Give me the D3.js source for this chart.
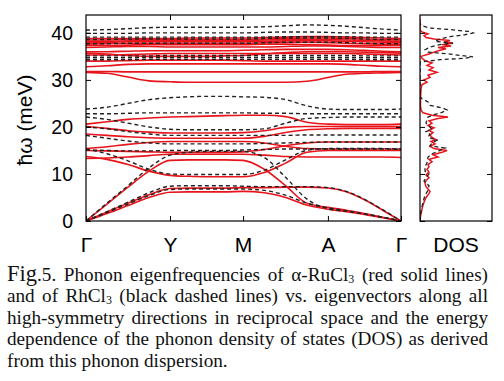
<!DOCTYPE html>
<html>
<head>
<meta charset="utf-8">
<script src="https://cdn.jsdelivr.net/npm/d3@7"></script>
<style>
  body { margin: 0; background: #fff; }
  #chart { position: relative; width: 504px; height: 381px; overflow: hidden; background: #fff; }
  #chart svg { position: absolute; left: 0; top: 0; }
  .cap { position: absolute; left: 7px; width: 481px; white-space: nowrap;
         font-family: "Liberation Serif", "Times New Roman", serif; font-size: 19.2px;
         line-height: 21.5px; color: #111; }
  .cap.j { text-align: justify; text-align-last: justify; white-space: normal; }
  .cap .big { font-size: 22.5px; line-height: 0; }
  .cap sub { font-size: 12px; line-height: 0; vertical-align: -2px; }
</style>
</head>
<body>
<div id="chart">
  <div class="cap j" style="top:263.5px"><span class="big">Fig</span>.5. Phonon eigenfrequencies of α-RuCl<sub>3</sub> (red solid lines)</div>
  <div class="cap j" style="top:285px">and of RhCl<sub>3</sub> (black dashed lines) vs. eigenvectors along all</div>
  <div class="cap j" style="top:306.5px">high-symmetry directions in reciprocal space and the energy</div>
  <div class="cap j" style="top:328px">dependence of the phonon density of states (DOS) as derived</div>
  <div class="cap" style="top:349.5px">from this phonon dispersion.</div>
</div>
<script>
// high-symmetry path
const kLabels = ["Γ", "Y", "M", "A", "Γ"]
const kNodes = [0, 1, 1.87, 2.88, 3.75]
const yTicks = [0, 10, 20, 30, 40]

// alpha-RuCl3 bands (meV), sampled at Γ, 1/4, 1/2, 3/4, Y, ... , Γ
const ruBands = [
  [0, 1.6, 3.3, 5.0, 6.1, 6.2, 6.2, 6.2, 6.3, 6.0, 5.0, 3.4, 2.5, 2.0, 1.4, 0.7, 0],
  [0, 1.9, 3.8, 5.6, 6.9, 7.0, 7.0, 7.0, 7.1, 7.1, 7.2, 7.2, 7.0, 6.2, 4.5, 2.3, 0],
  [0, 3.6, 7.2, 10.6, 12.9, 13.0, 13.0, 13.0, 12.9, 11.0, 7.5, 3.8, 2.9, 2.3, 1.6, 0.8, 0],
  [13.7, 13.1, 12.0, 10.6, 9.7, 9.5, 9.4, 9.4, 9.4, 10.3, 12.3, 14.6, 15.0, 15.0, 15.0, 15.0, 15.0],
  [20.6, 21.1, 21.6, 21.9, 22.1, 22.2, 22.3, 22.4, 22.5, 22.5, 22.2, 21.0, 20.6, 20.5, 20.5, 20.5, 20.6],
  [20.1, 19.7, 19.2, 18.9, 18.7, 18.7, 18.7, 18.7, 18.8, 19.2, 19.9, 20.1, 20.1, 20.1, 20.1, 20.1, 20.1],
  [13.3, 13.4, 13.6, 13.9, 14.2, 14.2, 14.2, 14.2, 14.2, 14.0, 13.7, 13.6, 13.6, 13.6, 13.6, 13.6, 13.5],
  [15.0, 14.9, 14.8, 14.7, 14.6, 14.6, 14.6, 14.6, 14.7, 15.2, 16.0, 16.6, 16.8, 16.8, 16.8, 16.8, 16.8],
  [15.4, 15.8, 16.3, 16.7, 16.9, 16.9, 16.9, 16.9, 16.9, 16.6, 15.9, 15.4, 15.3, 15.3, 15.3, 15.3, 15.3],
  [18.5, 18.2, 17.9, 17.7, 17.6, 17.6, 17.6, 17.6, 17.6, 18.0, 18.8, 19.4, 19.6, 19.7, 19.7, 19.7, 19.7],
  [31.6, 31.4, 30.6, 29.8, 29.6, 29.5, 29.5, 29.5, 29.5, 29.5, 29.5, 29.7, 30.5, 31.2, 31.4, 31.5, 31.6],
  [31.8, 31.8, 31.7, 31.7, 31.7, 31.7, 31.7, 31.7, 31.7, 31.7, 31.7, 31.7, 31.7, 31.7, 31.7, 31.8, 31.8],
  [32.8, 33.0, 33.3, 33.4, 33.4, 33.4, 33.4, 33.4, 33.4, 33.4, 33.4, 33.4, 33.4, 33.3, 33.1, 32.9, 32.8],
  [34.0, 34.0, 34.1, 34.2, 34.2, 34.2, 34.2, 34.2, 34.1, 34.0, 34.0, 34.0, 34.0, 34.0, 34.0, 34.0, 34.0],
  [35.3, 35.3, 35.4, 35.5, 35.6, 35.6, 35.6, 35.6, 35.6, 35.6, 35.6, 35.6, 35.6, 35.6, 35.5, 35.4, 35.3],
  [35.7, 35.5, 35.2, 35.0, 35.0, 35.0, 35.0, 35.1, 35.2, 35.5, 35.8, 36.0, 36.0, 36.0, 35.9, 35.8, 35.7],
  [36.0, 36.0, 36.1, 36.2, 36.2, 36.2, 36.2, 36.2, 36.3, 36.4, 36.5, 36.5, 36.5, 36.4, 36.3, 36.1, 36.0],
  [36.9, 37.0, 37.1, 37.1, 37.0, 37.0, 37.0, 37.0, 37.0, 37.0, 37.1, 37.2, 37.2, 37.1, 37.0, 36.9, 36.9],
  [37.3, 37.3, 37.4, 37.5, 37.5, 37.5, 37.5, 37.5, 37.5, 37.6, 37.6, 37.5, 37.4, 37.3, 37.3, 37.3, 37.3],
  [37.6, 37.7, 37.8, 37.8, 37.8, 37.8, 37.8, 37.8, 37.8, 37.9, 38.0, 38.0, 37.9, 37.8, 37.7, 37.6, 37.6],
  [37.9, 38.0, 38.1, 38.1, 38.1, 38.1, 38.1, 38.1, 38.1, 38.2, 38.3, 38.3, 38.3, 38.2, 38.1, 38.0, 37.9],
  [38.2, 38.2, 38.3, 38.4, 38.4, 38.4, 38.4, 38.4, 38.4, 38.5, 38.6, 38.6, 38.6, 38.5, 38.4, 38.3, 38.2],
  [38.5, 38.5, 38.6, 38.6, 38.6, 38.6, 38.6, 38.6, 38.6, 38.7, 38.8, 38.9, 38.9, 38.8, 38.7, 38.6, 38.5],
  [38.8, 38.8, 38.8, 38.8, 38.8, 38.9, 38.9, 38.9, 38.9, 39.0, 39.1, 39.2, 39.2, 39.1, 39.0, 38.9, 38.8]
]

// RhCl3 bands (meV), same sampling
const rhBands = [
  [0, 1.8, 3.6, 5.4, 6.7, 6.8, 6.8, 6.8, 6.8, 6.5, 5.5, 3.8, 2.8, 2.2, 1.5, 0.8, 0],
  [0, 2.0, 4.0, 6.0, 7.4, 7.5, 7.5, 7.5, 7.4, 7.3, 7.3, 7.3, 7.1, 6.3, 4.6, 2.4, 0],
  [0, 3.8, 7.5, 11.3, 14.0, 14.6, 14.8, 14.8, 14.8, 13.5, 9.3, 4.7, 2.6, 2.1, 1.5, 0.8, 0],
  [15.3, 14.3, 12.8, 11.0, 10.0, 9.9, 9.9, 9.9, 9.9, 10.8, 13.0, 15.0, 15.4, 15.4, 15.4, 15.4, 15.3],
  [23.8, 24.2, 25.0, 25.8, 26.2, 26.4, 26.5, 26.5, 26.4, 26.3, 25.8, 24.5, 23.8, 23.7, 23.7, 23.7, 23.8],
  [22.8, 22.8, 22.9, 23.0, 23.0, 23.0, 23.0, 23.0, 23.0, 22.9, 22.9, 22.8, 22.8, 22.8, 22.8, 22.8, 22.8],
  [22.1, 21.6, 20.8, 20.0, 19.5, 19.4, 19.4, 19.4, 19.4, 19.6, 20.8, 21.8, 22.0, 22.1, 22.1, 22.1, 22.1],
  [20.0, 19.6, 19.0, 18.5, 18.2, 18.2, 18.2, 18.2, 18.2, 18.2, 18.2, 18.3, 18.3, 18.3, 18.3, 18.3, 18.3],
  [18.2, 17.6, 17.0, 16.6, 16.4, 16.4, 16.4, 16.4, 16.4, 16.5, 16.6, 16.7, 16.8, 16.8, 16.8, 16.8, 16.8],
  [15.1, 15.0, 14.9, 14.9, 15.0, 15.0, 15.0, 15.0, 15.1, 15.2, 15.3, 15.3, 15.3, 15.3, 15.3, 15.3, 15.2],
  [34.3, 34.3, 34.3, 34.4, 34.4, 34.4, 34.4, 34.4, 34.4, 34.4, 34.4, 34.4, 34.4, 34.4, 34.3, 34.3, 34.3],
  [34.7, 34.7, 34.7, 34.8, 34.8, 34.8, 34.8, 34.8, 34.8, 34.8, 34.8, 34.8, 34.8, 34.8, 34.7, 34.7, 34.7],
  [35.1, 35.1, 35.1, 35.1, 35.2, 35.2, 35.2, 35.2, 35.2, 35.2, 35.2, 35.2, 35.2, 35.2, 35.1, 35.1, 35.1],
  [37.7, 37.7, 37.8, 37.8, 37.8, 37.8, 37.8, 37.8, 37.8, 37.9, 38.0, 38.0, 38.0, 37.9, 37.8, 37.7, 37.7],
  [38.6, 38.6, 38.7, 38.7, 38.7, 38.7, 38.7, 38.7, 38.7, 38.8, 38.9, 38.9, 38.9, 38.8, 38.7, 38.6, 38.6],
  [39.1, 39.1, 39.1, 39.1, 39.1, 39.1, 39.1, 39.1, 39.1, 39.1, 39.2, 39.2, 39.2, 39.2, 39.1, 39.1, 39.1],
  [39.9, 39.9, 39.9, 40.0, 40.0, 40.0, 40.0, 40.0, 40.0, 40.1, 40.2, 40.2, 40.1, 40.0, 40.0, 39.9, 39.9],
  [40.6, 40.7, 40.9, 41.1, 41.2, 41.2, 41.2, 41.2, 41.2, 41.3, 41.5, 41.7, 41.6, 41.4, 41.1, 40.8, 40.6]
]

// phonon DOS (energy in meV, arbitrary units)
const dosEnergyRu = [0, 1, 2, 3, 4, 5, 5.8, 6.3, 6.8, 7.3, 8, 8.6, 9.2, 9.8, 10.4, 11, 11.5, 12, 12.6, 13.1,
  13.6, 14.1, 14.6, 15.0, 15.4, 15.9, 16.4, 16.9, 17.3, 17.8, 18.3, 18.8, 19.3, 19.8, 20.3, 20.8, 21.3,
  21.8, 22.1, 22.5, 23.0, 23.6, 24.5, 26, 28, 29, 29.5, 30, 30.5, 31, 31.6, 32.1, 32.6, 33.1, 33.6, 34.1,
  34.6, 35.0, 35.5, 35.9, 36.3, 36.6, 36.9, 37.2, 37.5, 37.8, 38.1, 38.4, 38.7, 39.0, 39.4, 39.8, 40.2, 40.6, 43]
const dosRu = [0, 0.5, 1.5, 2.5, 4, 6, 9, 10, 8, 6, 5, 6, 9, 6, 9, 7, 9, 8, 12, 9,
  18, 13, 22, 27, 14, 10, 15, 11, 16, 12, 10, 13, 9, 14, 8, 12, 9,
  18, 28, 12, 3, 1, 0.5, 0.5, 1, 2, 7, 4, 10, 8, 17, 9, 13, 7, 12, 5,
  2, 1, 9, 14, 20, 26, 18, 31, 22, 33, 24, 30, 14, 6, 4, 8, 2, 0, 0]
const dosEnergyRh = [0, 2, 4, 5.5, 6.5, 7.5, 8.5, 9.2, 10, 10.6, 11.5, 12.4, 13.6, 14.3, 15.0, 15.5, 16.0,
  16.6, 17.2, 17.8, 18.4, 19.0, 19.5, 20.2, 20.8, 21.5, 22.1, 22.6, 23.1, 23.6, 24.0, 24.6, 25.3, 26.0,
  26.4, 33.8, 34.3, 34.6, 34.9, 35.2, 35.5, 35.9, 36.4, 37.0, 37.5, 37.8, 38.2, 38.7, 39.2, 39.6, 40.0,
  40.3, 40.7, 41.0, 41.5, 42]
const dosRh = [0, 1, 3, 5, 8, 9, 4, 6, 9, 5, 5, 7, 8, 12, 20, 25, 10,
  12, 17, 8, 10, 6, 12, 9, 6, 7, 8, 14, 22, 27, 23, 10, 8, 2,
  0, 0, 20, 45, 53, 40, 30, 8, 5, 10, 20, 33, 15, 20, 30, 45, 53,
  48, 30, 10, 2, 0]

// layout
const W = 504, H = 381
const frame = {left: 86, right: 401, top: 15, bottom: 221}
const dosFrame = {left: 420, right: 492}
const red = "#e8141c"

const svg = d3.select("#chart").insert("svg", ":first-child")
  .attr("width", W)
  .attr("height", H)

const x = d3.scaleLinear().domain([0, kNodes[4]]).range([frame.left, frame.right])
const y = d3.scaleLinear().domain([0, 43.8]).range([frame.bottom, frame.top])
const xd = d3.scaleLinear().domain([0, 72]).range([dosFrame.left, dosFrame.right])

// k of every sample: 4 steps per segment
const kSample = d3.range(17).map(i => {
  const s = Math.min(3, Math.floor(i / 4))
  return kNodes[s] + (kNodes[s + 1] - kNodes[s]) * (i - s * 4) / 4
})

const defs = svg.append("defs")
defs.append("clipPath").attr("id", "clipMain").append("rect")
  .attr("x", frame.left).attr("y", frame.top)
  .attr("width", frame.right - frame.left).attr("height", frame.bottom - frame.top)
defs.append("clipPath").attr("id", "clipDos").append("rect")
  .attr("x", dosFrame.left).attr("y", frame.top)
  .attr("width", dosFrame.right - dosFrame.left).attr("height", frame.bottom - frame.top)

const band = d3.line()
  .x((d, i) => x(kSample[i]))
  .y(d => y(d))
  .curve(d3.curveMonotoneX)

const main = svg.append("g").attr("clip-path", "url(#clipMain)")

main.append("g").selectAll("path")
  .data(ruBands)
  .join("path")
  .attr("d", band)
  .attr("fill", "none")
  .attr("stroke", red)
  .attr("stroke-width", 1.6)

main.append("g").selectAll("path")
  .data(rhBands)
  .join("path")
  .attr("d", band)
  .attr("fill", "none")
  .attr("stroke", "#222")
  .attr("stroke-width", 1.4)
  .attr("stroke-dasharray", "4,3")

// DOS panel
const dosLine = d3.line()
  .x(d => xd(d[1]))
  .y(d => y(d[0]))

const dos = svg.append("g").attr("clip-path", "url(#clipDos)")
dos.append("path")
  .datum(d3.zip(dosEnergyRu, dosRu))
  .attr("d", dosLine)
  .attr("fill", "none")
  .attr("stroke", red)
  .attr("stroke-width", 1.5)
dos.append("path")
  .datum(d3.zip(dosEnergyRh, dosRh))
  .attr("d", dosLine)
  .attr("fill", "none")
  .attr("stroke", "#222")
  .attr("stroke-width", 1.3)
  .attr("stroke-dasharray", "4,3")

// axes, ticks point inward
const font = "'Liberation Sans', Arial, sans-serif"
function styleAxis(g) {
  g.select(".domain").remove()
  g.selectAll(".tick line").attr("stroke", "#000").attr("stroke-width", 1)
  g.selectAll("text").attr("font-family", font).attr("fill", "#000")
}

svg.append("g")
  .attr("transform", `translate(${frame.left},0)`)
  .call(d3.axisLeft(y).tickValues(yTicks).tickSize(-5).tickPadding(13))
  .call(styleAxis)
  .selectAll("text").attr("font-size", 19.5)

svg.append("g")
  .attr("transform", `translate(${frame.right},0)`)
  .call(d3.axisRight(y).tickValues(yTicks).tickSize(-5).tickFormat(""))
  .call(styleAxis)

svg.append("g")
  .attr("transform", `translate(0,${frame.top})`)
  .call(d3.axisTop(x).tickValues(kNodes.slice(1, 4)).tickSize(-5).tickFormat(""))
  .call(styleAxis)

svg.append("g")
  .attr("transform", `translate(0,${frame.bottom})`)
  .call(d3.axisBottom(x).tickValues(kNodes).tickSize(-5).tickPadding(16)
    .tickFormat((d, i) => kLabels[i]))
  .call(styleAxis)
  .selectAll("text").attr("font-size", 21)

svg.append("g")
  .attr("transform", `translate(${dosFrame.right},0)`)
  .call(d3.axisRight(y).tickValues(yTicks).tickSize(-5).tickFormat(""))
  .call(styleAxis)

svg.append("g")
  .attr("transform", `translate(${dosFrame.left},0)`)
  .call(d3.axisLeft(y).tickValues(yTicks).tickSize(-5).tickFormat(""))
  .call(styleAxis)

// frames
svg.append("rect")
  .attr("x", frame.left).attr("y", frame.top)
  .attr("width", frame.right - frame.left).attr("height", frame.bottom - frame.top)
  .attr("fill", "none").attr("stroke", "#000").attr("stroke-width", 1.2)
svg.append("rect")
  .attr("x", dosFrame.left).attr("y", frame.top)
  .attr("width", dosFrame.right - dosFrame.left).attr("height", frame.bottom - frame.top)
  .attr("fill", "none").attr("stroke", "#000").attr("stroke-width", 1.2)

// labels
svg.append("text")
  .attr("x", (dosFrame.left + dosFrame.right) / 2)
  .attr("y", frame.bottom + 31)
  .attr("text-anchor", "middle")
  .attr("font-family", font)
  .attr("font-size", 21)
  .text("DOS")

svg.append("text")
  .attr("transform", "translate(32,120) rotate(-90)")
  .attr("text-anchor", "middle")
  .attr("font-family", font)
  .attr("font-size", 21)
  .text("ħω (meV)")
</script>
</body>
</html>
